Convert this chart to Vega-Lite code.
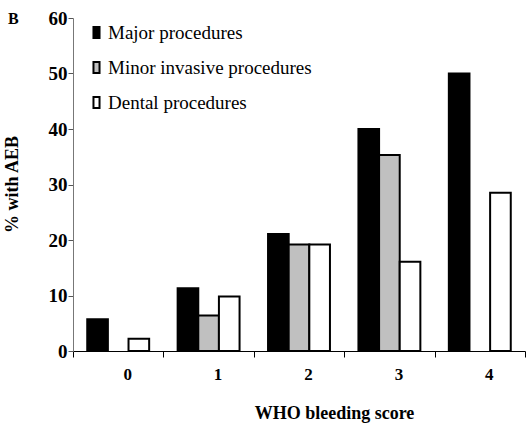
{
  "$schema": "https://vega.github.io/schema/vega-lite/v6.json",
  "autosize": "none",
  "width": 452,
  "height": 333,
  "padding": {"left": 73, "top": 18, "right": 1, "bottom": 73},
  "background": "white",
  "title": {
    "text": "B",
    "anchor": "start",
    "frame": "group",
    "dx": -65,
    "offset": -18,
    "font": "Liberation Serif",
    "fontSize": 16,
    "fontWeight": "bold",
    "color": "#000"
  },
  "config": {
    "view": {"stroke": null},
    "font": "Liberation Serif"
  },
  "data": {
    "values": [
      {"score": "0", "type": "Major procedures", "pct": 5.7},
      {"score": "0", "type": "Dental procedures", "pct": 2.2},
      {"score": "1", "type": "Major procedures", "pct": 11.3},
      {"score": "1", "type": "Minor invasive procedures", "pct": 6.4},
      {"score": "1", "type": "Dental procedures", "pct": 9.8},
      {"score": "2", "type": "Major procedures", "pct": 21.1},
      {"score": "2", "type": "Minor invasive procedures", "pct": 19.2},
      {"score": "2", "type": "Dental procedures", "pct": 19.2},
      {"score": "3", "type": "Major procedures", "pct": 40},
      {"score": "3", "type": "Minor invasive procedures", "pct": 35.3},
      {"score": "3", "type": "Dental procedures", "pct": 16.1},
      {"score": "4", "type": "Major procedures", "pct": 50},
      {"score": "4", "type": "Dental procedures", "pct": 28.5}
    ]
  },
  "mark": {"type": "bar", "stroke": "#000", "strokeWidth": 2},
  "encoding": {
    "x": {
      "field": "score",
      "type": "nominal",
      "scale": {"paddingInner": 0, "paddingOuter": 0},
      "axis": {
        "title": "WHO bleeding score",
        "labelAngle": 0,
        "tickBand": "extent",
        "labelOffset": 9,
        "labelPadding": 9,
        "labelFontSize": 17,
        "labelFontWeight": "bold",
        "labelColor": "#000",
        "labelFont": "Liberation Serif",
        "tickSize": 6,
        "tickColor": "#000",
        "domainColor": "#000",
        "titleFont": "Liberation Serif",
        "titleFontSize": 18,
        "titleFontWeight": "bold",
        "titleColor": "#000",
        "titleX": 261,
        "titleY": 67,
        "titleAlign": "center",
        "titleBaseline": "alphabetic"
      }
    },
    "xOffset": {
      "field": "type",
      "type": "nominal",
      "scale": {
        "domain": ["Major procedures", "Minor invasive procedures", "Dental procedures"],
        "paddingInner": 0,
        "paddingOuter": 0.69
      }
    },
    "y": {
      "field": "pct",
      "type": "quantitative",
      "scale": {"domain": [0, 60], "nice": false},
      "axis": {
        "title": "% with AEB",
        "values": [0, 10, 20, 30, 40, 50, 60],
        "grid": false,
        "labelFontSize": 19,
        "labelFontWeight": "bold",
        "labelColor": "#000",
        "labelFont": "Liberation Serif",
        "labelPadding": 1,
        "tickSize": 5,
        "tickColor": "#555",
        "domainColor": "#777",
        "titleFont": "Liberation Serif",
        "titleFontSize": 18,
        "titleFontWeight": "bold",
        "titleColor": "#000",
        "titleAngle": -90,
        "titleX": -56,
        "titleY": 166,
        "titleAlign": "center",
        "titleBaseline": "alphabetic"
      }
    },
    "color": {
      "field": "type",
      "type": "nominal",
      "scale": {
        "domain": ["Major procedures", "Minor invasive procedures", "Dental procedures"],
        "range": ["#000000", "#c0c0c0", "#ffffff"]
      },
      "legend": {
        "title": null,
        "orient": "none",
        "legendX": 14,
        "legendY": 5,
        "padding": 0,
        "symbolType": "M-0.55,-1H0.55V1H-0.55Z",
        "symbolSize": 121,
        "symbolStrokeColor": "#000",
        "symbolStrokeWidth": 2,
        "labelFont": "Liberation Serif",
        "labelFontSize": 19,
        "labelColor": "#000",
        "labelOffset": 2,
        "rowPadding": 15,
        "labelLimit": 400
      }
    }
  }
}
